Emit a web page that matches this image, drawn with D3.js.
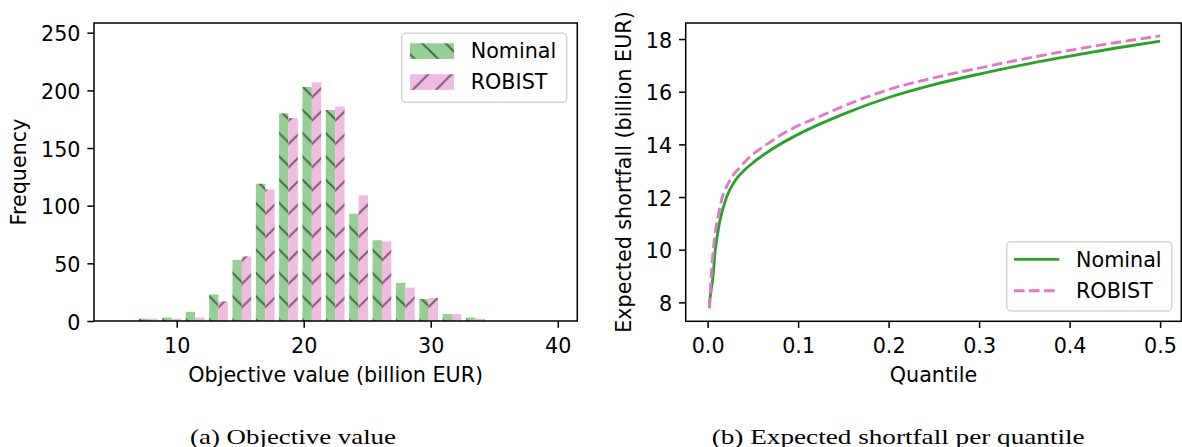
<!DOCTYPE html>
<html>
<head>
<meta charset="utf-8">
<script src="https://cdn.jsdelivr.net/npm/d3@7"></script>
<style>
  body { margin: 0; background: #fff; }
  svg text { font-family: 'DejaVu Sans', sans-serif; fill: #000; }
  svg text.caption { font-family: 'Liberation Serif', serif; }
</style>
</head>
<body>
<div id="chart"></div>
<script>
// left panel: histogram of objective values
var binStart = [6.85, 8.69, 10.53, 12.37, 14.21, 16.05, 17.88, 19.72, 21.56, 23.40, 25.24, 27.08, 28.92, 30.76, 32.60];
var binWidth = 1.839;
var nominalCounts = [2, 3, 8, 23, 53, 119, 180, 203, 183, 93, 70, 33, 19, 6, 3];
var robistCounts = [2, 2, 3, 17, 56, 114, 176, 207, 186, 109, 69, 29, 20, 6, 2];
var histXTicks = [10, 20, 30, 40];
var histYTicks = [0, 50, 100, 150, 200, 250];

// right panel: expected shortfall per quantile
var nominalQ = [0.002, 0.004, 0.0055, 0.0085, 0.013, 0.021, 0.03, 0.04, 0.05, 0.075, 0.1, 0.15, 0.2, 0.25, 0.3, 0.35, 0.4, 0.45, 0.5];
var nominalES = [7.95, 8.5, 8.85, 9.99, 11.0, 12.0, 12.6, 13.0, 13.3, 13.9, 14.38, 15.15, 15.78, 16.27, 16.67, 17.03, 17.35, 17.65, 17.92];
var robistQ = [0.002, 0.0037, 0.0066, 0.0122, 0.025, 0.035, 0.0435, 0.0674, 0.0913, 0.1245, 0.15, 0.2, 0.25, 0.3, 0.35, 0.4, 0.45, 0.5];
var robistES = [7.77, 8.85, 10.1, 11.39, 12.66, 13.1, 13.42, 14.05, 14.56, 15.07, 15.45, 16.08, 16.53, 16.9, 17.25, 17.57, 17.86, 18.12];
var esXTicks = [0, 0.1, 0.2, 0.3, 0.4, 0.5];
var esYTicks = [8, 10, 12, 14, 16, 18];

var width = 1182, height = 447, fs = 20.7, tickLen = 6.65;
var green = '#2ca02c', pink = '#e377c2';

var svg = d3.select('#chart')
  .append('svg')
  .attr('width', width)
  .attr('height', height);

var defs = svg.append('defs');

// hatch patterns, anchored to the page like matplotlib does
var P = 23.3;
function hatch(id, back, oy) {
  var pat = defs.append('pattern')
    .attr('id', id)
    .attr('patternUnits', 'userSpaceOnUse')
    .attr('width', P)
    .attr('height', P)
    .attr('x', 0)
    .attr('y', oy);
  var d = back
    ? 'M-2,-2L' + (P + 2) + ',' + (P + 2) + 'M-2,' + (P - 2) + 'L2,' + (P + 2) + 'M' + (P - 2) + ',-2L' + (P + 2) + ',2'
    : 'M-2,' + (P + 2) + 'L' + (P + 2) + ',-2M-2,2L2,-2M' + (P - 2) + ',' + (P + 2) + 'L' + (P + 2) + ',' + (P - 2);
  pat.append('path')
    .attr('d', d)
    .attr('stroke', 'rgba(0,0,0,0.5)')
    .attr('stroke-width', 1.9)
    .attr('fill', 'none');
}
hatch('hatchBack', true, 17);
hatch('hatchFwd', false, 13.3);

function styleAxis(g) {
  g.select('.domain').remove();
  g.selectAll('.tick line').attr('stroke', '#000').attr('stroke-width', 1.5);
  g.selectAll('.tick text').style('font-size', fs + 'px').attr('fill', '#000');
}

function frame(x0, y0, x1, y1) {
  svg.append('rect')
    .attr('x', x0).attr('y', y0)
    .attr('width', x1 - x0).attr('height', y1 - y0)
    .attr('fill', 'none')
    .attr('stroke', '#000')
    .attr('stroke-width', 1.5);
}

function legendBox(x, y, w, h) {
  svg.append('rect')
    .attr('x', x).attr('y', y)
    .attr('width', w).attr('height', h)
    .attr('rx', 4)
    .attr('fill', 'rgba(255,255,255,0.8)')
    .attr('stroke', '#d6d6d6')
    .attr('stroke-width', 1.5);
}

// ---------- left: histogram ----------
var hx = d3.scaleLinear().domain([3.49, 41.54]).range([94, 577.3]);
var hy = d3.scaleLinear().domain([0, 258.4]).range([321, 23]);
var barW = hx(0.4 * binWidth) - hx(0);

var bins = binStart.map(function (s, i) {
  return { start: s, nominal: nominalCounts[i], robist: robistCounts[i] };
});

var barG = svg.append('g');
[['nominal', 0.1, '#95cf95', 'hatchBack'], ['robist', 0.5, '#f1bbe0', 'hatchFwd']].forEach(function (s) {
  ['fill', 'hatch'].forEach(function (layer) {
    barG.selectAll('.bar-' + s[0] + '-' + layer)
      .data(bins)
      .enter()
      .append('rect')
      .attr('x', function (d) { return hx(d.start + s[1] * binWidth); })
      .attr('y', function (d) { return hy(d[s[0]]); })
      .attr('width', barW)
      .attr('height', function (d) { return hy(0) - hy(d[s[0]]); })
      .attr('fill', layer === 'fill' ? s[2] : 'url(#' + s[3] + ')');
  });
});

frame(94, 23, 577.3, 321);

svg.append('g')
  .attr('transform', 'translate(0,321)')
  .call(d3.axisBottom(hx).tickValues(histXTicks).tickSize(tickLen).tickPadding(10.3))
  .call(styleAxis);

svg.append('g')
  .attr('transform', 'translate(94,0)')
  .call(d3.axisLeft(hy).tickValues(histYTicks).tickSize(tickLen).tickPadding(6.85))
  .call(styleAxis)
  .selectAll('.tick text').attr('dy', '0.4em');

svg.append('text')
  .attr('x', 335.7).attr('y', 381.7)
  .attr('text-anchor', 'middle')
  .style('font-size', fs + 'px')
  .text('Objective value (billion EUR)');

svg.append('text')
  .attr('transform', 'translate(26,172) rotate(-90)')
  .attr('text-anchor', 'middle')
  .style('font-size', fs + 'px')
  .text('Frequency');

legendBox(401.7, 33.3, 165, 69);
[['Nominal', '#95cf95', 'hatchBack', 43.3, 58.3], ['ROBIST', '#f1bbe0', 'hatchFwd', 74.2, 89.3]].forEach(function (l) {
  svg.append('rect').attr('x', 410).attr('y', l[3]).attr('width', 44).attr('height', 15.6).attr('fill', l[1]);
  svg.append('rect').attr('x', 410).attr('y', l[3]).attr('width', 44).attr('height', 15.6).attr('fill', 'url(#' + l[2] + ')');
  svg.append('text').attr('x', 470.7).attr('y', l[4]).style('font-size', fs + 'px').text(l[0]);
});

// ---------- right: expected shortfall ----------
var ex = d3.scaleLinear().domain([-0.025, 0.525]).range([685, 1182.7]);
var ey = d3.scaleLinear().domain([7.28, 18.61]).range([321.3, 23]);

defs.append('clipPath').attr('id', 'esClip')
  .append('rect').attr('x', 685).attr('y', 23).attr('width', 496.5).attr('height', 298.3);

var line = d3.line()
  .x(function (d) { return ex(d[0]); })
  .y(function (d) { return ey(d[1]); })
  .curve(d3.curveMonotoneX);

var lineG = svg.append('g').attr('clip-path', 'url(#esClip)');
lineG.append('path')
  .datum(d3.zip(nominalQ, nominalES))
  .attr('d', line)
  .attr('fill', 'none')
  .attr('stroke', green)
  .attr('stroke-width', 2.85);
lineG.append('path')
  .datum(d3.zip(robistQ, robistES))
  .attr('d', line)
  .attr('fill', 'none')
  .attr('stroke', pink)
  .attr('stroke-width', 2.85)
  .attr('stroke-dasharray', '10.5,4.6');

frame(685.7, 23, 1181.3, 321.3);

svg.append('g')
  .attr('transform', 'translate(0,321.3)')
  .call(d3.axisBottom(ex).tickValues(esXTicks).tickFormat(d3.format('.1f')).tickSize(tickLen).tickPadding(10.3))
  .call(styleAxis);

svg.append('g')
  .attr('transform', 'translate(685.7,0)')
  .call(d3.axisLeft(ey).tickValues(esYTicks).tickSize(tickLen).tickPadding(6.85))
  .call(styleAxis)
  .selectAll('.tick text').attr('dy', '0.4em');

svg.append('text')
  .attr('x', 933.5).attr('y', 381.7)
  .attr('text-anchor', 'middle')
  .style('font-size', fs + 'px')
  .text('Quantile');

svg.append('text')
  .attr('transform', 'translate(630.5,172) rotate(-90)')
  .attr('text-anchor', 'middle')
  .style('font-size', fs + 'px')
  .text('Expected shortfall (billion EUR)');

legendBox(1006.7, 241.7, 165, 69.3);
[['Nominal', green, null, 259.3, 266.7], ['ROBIST', pink, '10.5,4.6', 290.7, 297.7]].forEach(function (l) {
  svg.append('line')
    .attr('x1', 1014).attr('x2', 1059.3)
    .attr('y1', l[3]).attr('y2', l[3])
    .attr('stroke', l[1])
    .attr('stroke-width', 2.85)
    .attr('stroke-dasharray', l[2]);
  svg.append('text').attr('x', 1076).attr('y', l[4]).style('font-size', fs + 'px').text(l[0]);
});

// ---------- captions ----------
svg.append('text')
  .attr('class', 'caption')
  .attr('x', 190).attr('y', 443.5)
  .attr('textLength', 206)
  .attr('lengthAdjust', 'spacingAndGlyphs')
  .style('font-size', '21.5px')
  .text('(a) Objective value');

svg.append('text')
  .attr('class', 'caption')
  .attr('x', 711.7).attr('y', 443.5)
  .attr('textLength', 373)
  .attr('lengthAdjust', 'spacingAndGlyphs')
  .style('font-size', '21.5px')
  .text('(b) Expected shortfall per quantile');
</script>
</body>
</html>
